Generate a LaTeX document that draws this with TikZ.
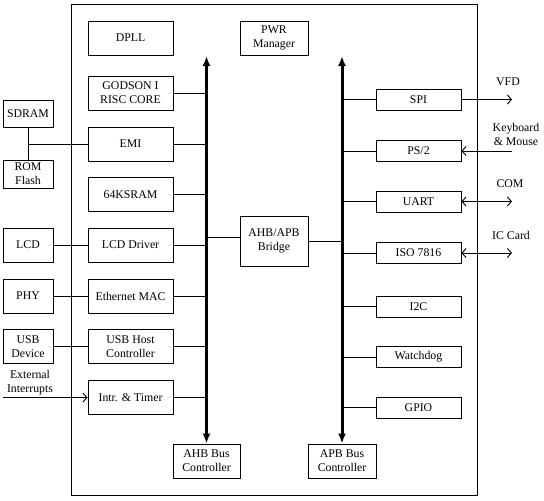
\documentclass[tikz,border=0pt]{standalone}
\usepackage{fontspec}
\setmainfont{Liberation Serif}
\usetikzlibrary{arrows.meta}
\begin{document}
\begin{tikzpicture}[x=1pt,y=-1pt,
  txt/.style={font=\fontsize{11.8}{14}\selectfont, align=center, inner sep=0pt},
  box/.style={txt, draw, line width=0.9pt},
  lbox/.style={box, minimum width=85pt, minimum height=34pt},
  xbox/.style={box, minimum width=50pt},
  rbox/.style={box, minimum width=85pt, minimum height=21pt},
  mbox/.style={box, minimum width=68pt, minimum height=34pt},
  wire/.style={line width=0.9pt},
  bustip/.tip={Latex[length=10pt,width=8pt]},
  opentip/.tip={Straight Barb[length=4pt,width=9pt]},
  bus/.style={line width=3pt, bustip-bustip},
  oarr/.style={wire, -opentip},
  darr/.style={wire, opentip-opentip},
]
\useasboundingbox (0,0) rectangle (544,501);
\draw[line width=1pt] (71,4) rectangle (477,495);

% left column
\node[lbox] (dpll) at (130.5,38) {DPLL};
\node[lbox] (godson) at (130.5,93) {GODSON I\\RISC CORE};
\node[lbox] (emi) at (130.5,144) {EMI};
\node[lbox] (sram) at (130.5,194.5) {64KSRAM};
\node[lbox] (lcdd) at (130.5,245) {LCD Driver};
\node[lbox] (mac) at (130.5,296) {Ethernet MAC};
\node[lbox] (usbh) at (130.5,346.5) {USB Host\\Controller};
\node[lbox] (intr) at (130.5,397.5) {Intr. \& Timer};

% external left
\node[xbox, minimum height=27pt] (sdram) at (28,113.5) {SDRAM};
\node[xbox, minimum height=28pt] (rom) at (28,174) {ROM\\Flash};
\node[xbox, minimum height=34pt] (lcd) at (28,245) {LCD};
\node[xbox, minimum height=34pt] (phy) at (28,296) {PHY};
\node[xbox, minimum height=34pt] (usbd) at (28,346.5) {USB\\Device};
\node[txt] (extl) at (30,383) {External\\Interrupts};
\coordinate (ext) at (3,397.5);

% middle
\node[mbox] (pwr) at (274,38) {PWR\\Manager};
\node[mbox, minimum height=50pt] (bridge) at (274,241) {AHB/APB\\Bridge};
\node[box, minimum width=67pt, minimum height=34pt] (ahbc) at (206.5,461) {AHB Bus\\Controller};
\node[mbox] (apbc) at (342,461) {APB Bus\\Controller};

% right column
\node[rbox] (spi) at (418.5,99.5) {SPI};
\node[rbox] (ps2) at (418.5,151) {PS/2};
\node[rbox] (uart) at (418.5,201.5) {UART};
\node[rbox] (iso) at (418.5,253) {ISO 7816};
\node[rbox] (i2c) at (418.5,306.5) {I2C};
\node[rbox] (wdog) at (418.5,357) {Watchdog};
\node[rbox] (gpio) at (418.5,407.5) {GPIO};

% right labels and free ends
\node[txt] (vfdl) at (508,82) {VFD};
\node[txt] (kbl) at (516,134) {Keyboard\\\& Mouse};
\node[txt] (coml) at (510,184) {COM};
\node[txt] (icl) at (511,235) {IC Card};
\coordinate (vfd) at (512,99.5);
\coordinate (kb) at (512,151);
\coordinate (com) at (512,201.5);
\coordinate (ic) at (512,253);

% buses
\coordinate (ahbtop) at (206.5,56);
\coordinate (apbtop) at (342,56);
\draw[bus] (ahbtop) -- (ahbc.north);
\draw[bus] (apbtop) -- (apbc.north);

% AHB connections
\foreach \n in {godson,emi,sram,lcdd,mac,usbh,intr}
  \draw[wire] (\n.east) -- (\n.east -| ahbtop);
\draw[wire] ([yshift=4pt]bridge.west) -- ([yshift=4pt]bridge.west -| ahbtop);
\draw[wire] (bridge.east) -- (bridge.east -| apbtop);

% APB connections
\foreach \n in {spi,ps2,uart,iso,i2c,wdog,gpio}
  \draw[wire] (\n.west) -- (\n.west -| apbtop);

% external connections
\draw[wire] (sdram.south) -- (rom.north);
\draw[wire] (emi.west) -- (emi.west -| sdram.south);
\draw[wire] (lcd) -- (lcdd);
\draw[wire] (phy) -- (mac);
\draw[wire] (usbd) -- (usbh);
\draw[oarr] (ext) -- (intr.west);

\draw[oarr] (spi.east) -- (vfd);
\draw[oarr] (kb) -- (ps2.east);
\draw[darr] (uart.east) -- (com);
\draw[darr] (iso.east) -- (ic);
\end{tikzpicture}
\end{document}
